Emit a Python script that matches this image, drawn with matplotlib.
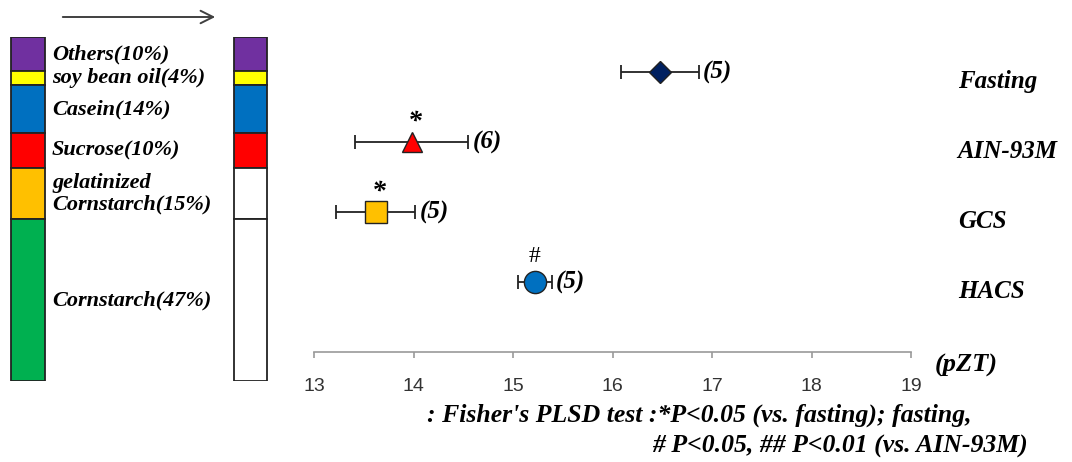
"""Peak phase (pZT) of each diet group, with the diet composition bars."""

import matplotlib.pyplot as plt
from matplotlib.patches import FancyArrowPatch

# diet composition (top to bottom)
COMPONENT_LABELS = [
    "Others(10%)",
    "soy bean oil(4%)",
    "Casein(14%)",
    "Sucrose(10%)",
    "gelatinized\nCornstarch(15%)",
    "Cornstarch(47%)",
]
COMPONENT_PERCENT = [10, 4, 14, 10, 15, 47]
COLORS_FULL = ["#7030A0", "#FFFF00", "#0070C0", "#FF0000", "#FFC000", "#00B050"]
COLORS_REPLACED = ["#7030A0", "#FFFF00", "#0070C0", "#FF0000", "white", "white"]

# peak phase per group
GROUPS = ["Fasting", "AIN-93M", "GCS", "HACS"]
PEAK_MEAN = [16.48, 13.98, 13.62, 15.22]
PEAK_SEM = [0.39, 0.57, 0.40, 0.17]
N_ANIMALS = [5, 6, 5, 5]
SIG_MARKS = ["", "*", "*", "#"]
MARKERS = ["D", "^", "s", "o"]
MARKER_SIZES = [11, 15, 16, 16]
MARKER_COLORS = ["#002060", "#FF0000", "#FFC000", "#0070C0"]
X_TICKS = [13, 14, 15, 16, 17, 18, 19]

W, H = 1072, 462
SERIF = ["Liberation Serif", "DejaVu Serif"]
SANS = ["Liberation Sans", "DejaVu Sans"]


def px_box(x0, y0, x1, y1):
    """Pixel box (top-left origin) to figure fraction rect."""
    return [x0 / W, 1 - y1 / H, (x1 - x0) / W, (y1 - y0) / H]


fig = plt.figure(figsize=(W / 100, H / 100), dpi=100)

# ---- composition bars ----
ax_bar = fig.add_axes(px_box(0, 37, 280, 381))
unit = 222.5
ax_bar.set_xlim(-28 / unit, (280 - 28) / unit)
ax_bar.set_ylim(100, 0)
bottom = 0
for label, pct, c_full, c_rep in zip(
    COMPONENT_LABELS, COMPONENT_PERCENT, COLORS_FULL, COLORS_REPLACED
):
    ax_bar.bar(0, pct, bottom=bottom, width=34 / unit, color=c_full,
               edgecolor="#222222", linewidth=1.3)
    ax_bar.bar(1, pct, bottom=bottom, width=33 / unit, color=c_rep,
               edgecolor="#222222", linewidth=1.3)
    ax_bar.text(24 / unit, bottom + pct / 2, label, ha="left", va="center",
                family=SERIF, fontsize=16, fontweight="bold", style="italic",
                linespacing=1.1)
    bottom += pct
ax_bar.axis("off")

fig.patches.append(FancyArrowPatch(
    (60 / W, 1 - 17 / H), (218 / W, 1 - 17 / H),
    transform=fig.transFigure, arrowstyle="->,head_length=9,head_width=4.5",
    color="#404040", linewidth=1.4, mutation_scale=1,
))

# ---- peak phase plot ----
ax = fig.add_axes(px_box(314, 37, 911, 352))
ax.set_xlim(13, 19)
ax.set_ylim(0, 4.5)
y_pos = [4, 3, 2, 1]

for i, group in enumerate(GROUPS):
    y = y_pos[i]
    ax.errorbar(PEAK_MEAN[i], y, xerr=PEAK_SEM[i], fmt="none", ecolor="#222222",
                elinewidth=1.3, capsize=5, capthick=1.3, zorder=2)
    ax.plot(PEAK_MEAN[i], y, marker=MARKERS[i], markersize=MARKER_SIZES[i],
            markerfacecolor=MARKER_COLORS[i], markeredgecolor="#222222",
            markeredgewidth=1, linestyle="none", zorder=3)
    ax.annotate(f"({N_ANIMALS[i]})", (PEAK_MEAN[i] + PEAK_SEM[i], y),
                xytext=(3, 0), textcoords="offset points", ha="left", va="center",
                family=SERIF, fontsize=18, fontweight="bold", style="italic")
    if SIG_MARKS[i] == "*":
        ax.annotate("*", (PEAK_MEAN[i], y), xytext=(2, 14),
                    textcoords="offset points", ha="center", va="center",
                    family=SERIF, fontsize=20, fontweight="bold", style="italic")
    elif SIG_MARKS[i] == "#":
        ax.annotate("#", (PEAK_MEAN[i], y), xytext=(0, 18),
                    textcoords="offset points", ha="center", va="center",
                    family=SERIF, fontsize=17)
    ax.text(19.47, y - 0.13, group, ha="left", va="center", family=SERIF,
            fontsize=18, fontweight="bold", style="italic")

for side in ["top", "right", "left"]:
    ax.spines[side].set_visible(False)
ax.spines["bottom"].set_color("#999999")
ax.spines["bottom"].set_linewidth(1.2)
ax.set_yticks([])
ax.set_xticks(X_TICKS)
ax.set_xticklabels([str(t) for t in X_TICKS], family=SANS, fontsize=14)
ax.tick_params(axis="x", direction="out", length=4.5, width=1.2,
               color="#999999", labelcolor="#333333", pad=14)

fig.text(935 / W, 1 - 365 / H, "(pZT)", ha="left", va="center", family=SERIF,
         fontsize=19, fontweight="bold", style="italic")

fig.text(427 / W, 1 - 415 / H,
         ": Fisher's PLSD test :*P<0.05 (vs. fasting); fasting,",
         ha="left", va="center", family=SERIF, fontsize=18.5,
         fontweight="bold", style="italic")
fig.text(1028 / W, 1 - 446 / H, "# P<0.05, ## P<0.01 (vs. AIN-93M)",
         ha="right", va="center", family=SERIF, fontsize=18.5,
         fontweight="bold", style="italic")

fig.savefig("out.png", dpi=100)
